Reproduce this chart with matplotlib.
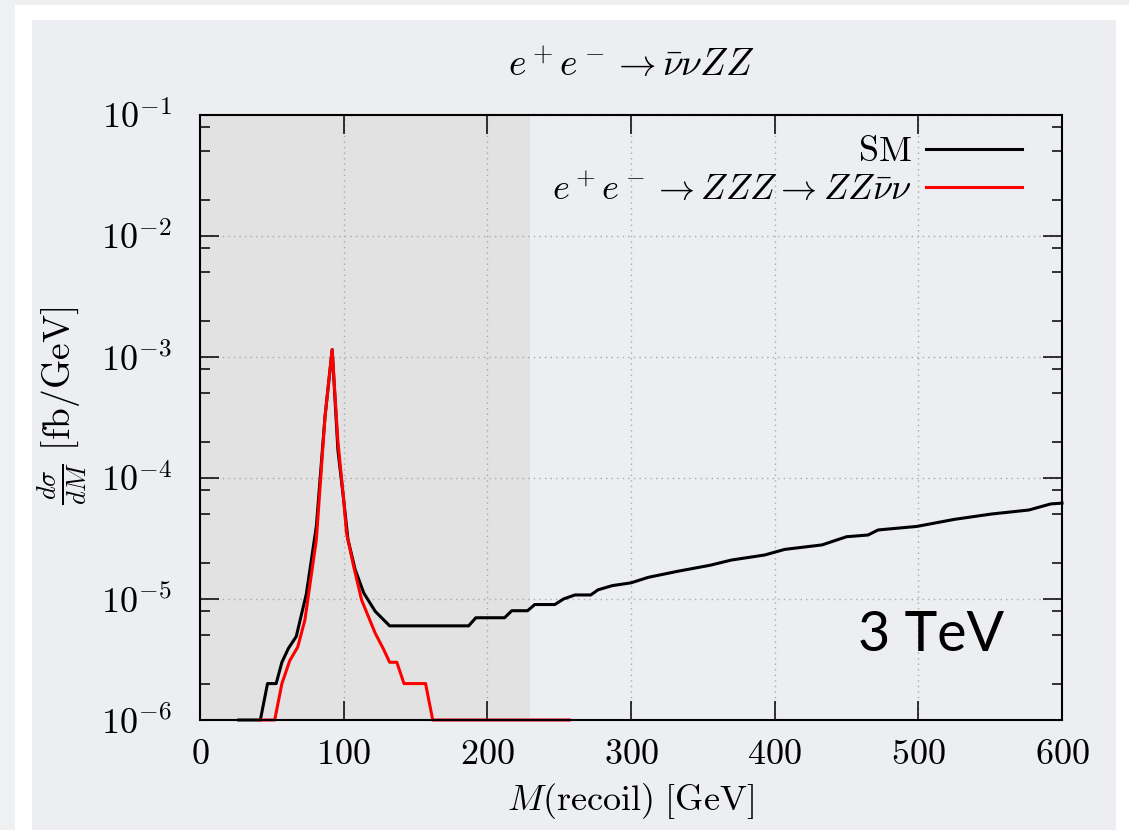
import numpy as np
import matplotlib
matplotlib.use('Agg')
import matplotlib.pyplot as plt
from matplotlib.patches import Rectangle
from matplotlib.ticker import LogLocator, FuncFormatter, NullFormatter, MultipleLocator

plt.rcParams['mathtext.fontset'] = 'cm'
plt.rcParams['font.family'] = 'DejaVu Serif'

# SM recoil mass spectrum (GeV, fb/GeV)
sm_mass = [27, 42, 47, 53, 57, 61.5, 67, 74, 81, 87, 92, 96, 100, 103, 108, 114,
           122, 132, 187, 192, 212, 217, 228, 233, 247, 253, 261, 272, 277, 287,
           300, 312, 332, 355, 370, 393, 407, 433, 450, 465, 472, 499, 525, 551,
           577, 592, 600]
sm_xsec = [1e-6, 1e-6, 2e-6, 2e-6, 3e-6, 3.9e-6, 4.9e-6, 1.1e-5, 4e-5, 3.2e-4,
           1.15e-3, 1.7e-4, 6.6e-5, 3.1e-5, 1.75e-5, 1.12e-5, 7.9e-6, 6e-6, 6e-6,
           7e-6, 7e-6, 8e-6, 8e-6, 9e-6, 9e-6, 1e-5, 1.08e-5, 1.08e-5, 1.19e-5,
           1.29e-5, 1.36e-5, 1.51e-5, 1.69e-5, 1.9e-5, 2.1e-5, 2.31e-5, 2.57e-5,
           2.8e-5, 3.27e-5, 3.38e-5, 3.72e-5, 3.98e-5, 4.55e-5, 5.04e-5, 5.44e-5,
           6.1e-5, 6.2e-5]

# ZZZ -> ZZ nu nu contribution
zzz_mass = [42, 52, 57, 62.5, 68, 73, 81, 87, 92, 96, 100, 102, 107, 112.5, 122,
            127.5, 132, 137, 142, 157, 162, 257]
zzz_xsec = [1e-6, 1e-6, 2e-6, 3.1e-6, 4e-6, 6.7e-6, 3.1e-5, 3.2e-4, 1.15e-3, 2e-4,
            6.6e-5, 3.5e-5, 1.85e-5, 9.8e-6, 5.2e-6, 3.9e-6, 3e-6, 3e-6, 2e-6,
            2e-6, 1e-6, 1e-6]

cut_region = (0, 230)

fig = plt.figure(figsize=(11.29, 8.30), dpi=100)
fig.patch.set_facecolor('#eef0f2')
W, H = 1129, 830
fig.patches.append(Rectangle((15 / W, 0), (W - 15) / W, (H - 5) / H,
                             transform=fig.transFigure, facecolor='white',
                             edgecolor='none', zorder=-3))
fig.patches.append(Rectangle((32 / W, 0), (1116 - 32) / W, (H - 20) / H,
                             transform=fig.transFigure, facecolor='#eceef1',
                             edgecolor='none', zorder=-2))

ax = fig.add_axes([200 / W, 1 - 720 / H, 862 / W, 605 / H])
ax.set_facecolor('none')

ax.axvspan(*cut_region, color='#e2e2e2', zorder=0, lw=0)
ax.plot(sm_mass, sm_xsec, color='black', lw=2.2, label=r'$\mathrm{SM}$',
        clip_on=False, zorder=3)
ax.plot(zzz_mass, zzz_xsec, color='#ff0000', lw=2.2,
        label=r'$e^+e^- \to ZZZ \to ZZ\bar{\nu}\nu$', clip_on=False, zorder=4)

ax.set_yscale('log')
ax.set_xlim(0, 600)
ax.set_ylim(1e-6, 1e-1)

ax.xaxis.set_major_locator(MultipleLocator(100))
ax.xaxis.set_major_formatter(FuncFormatter(lambda v, p: r'$%d$' % v))
ax.yaxis.set_major_locator(LogLocator(base=10, numticks=10))
ax.yaxis.set_major_formatter(FuncFormatter(lambda v, p: r'$10^{%d}$' % round(np.log10(v))))
ax.yaxis.set_minor_locator(LogLocator(base=10, subs=[2, 5, 8], numticks=20))
ax.yaxis.set_minor_formatter(NullFormatter())

ax.tick_params(which='both', direction='in', top=True, right=True, width=1.1)
ax.tick_params(which='major', length=13.5, labelsize=26)
ax.tick_params(which='minor', length=7)
ax.tick_params(axis='x', pad=12)
ax.tick_params(axis='y', pad=20)

for s in ax.spines.values():
    s.set_linewidth(1.5)
    s.set_zorder(5)

ax.grid(True, which='major', color='#a8a8a8', linestyle=(0, (1, 3)), lw=1.0, zorder=1)

ax.set_title(r'$e^+e^- \to \bar{\nu}\nu ZZ$', fontsize=27, pad=28)
ax.set_xlabel(r'$M(\mathrm{recoil})\ [\mathrm{GeV}]$', fontsize=26)
ax.xaxis.set_label_coords(0.5, -0.1)
ax.set_ylabel(r'$\frac{d\sigma}{dM}\ [\mathrm{fb}/\mathrm{GeV}]$', fontsize=27, va='center')
ax.yaxis.set_label_coords(-0.16, 0.52)

ax.legend(loc='upper right', bbox_to_anchor=(0.9536, 0.968), frameon=False,
          markerfirst=False, fontsize=26, handlelength=2.65, handletextpad=0.4,
          labelspacing=0.12, borderpad=0, borderaxespad=0)

ax.text(0.848, 0.139, '3 TeV', transform=ax.transAxes, fontsize=40,
        family='Lato', ha='center', va='center')

fig.savefig('out.png', dpi=100, facecolor=fig.get_facecolor())
